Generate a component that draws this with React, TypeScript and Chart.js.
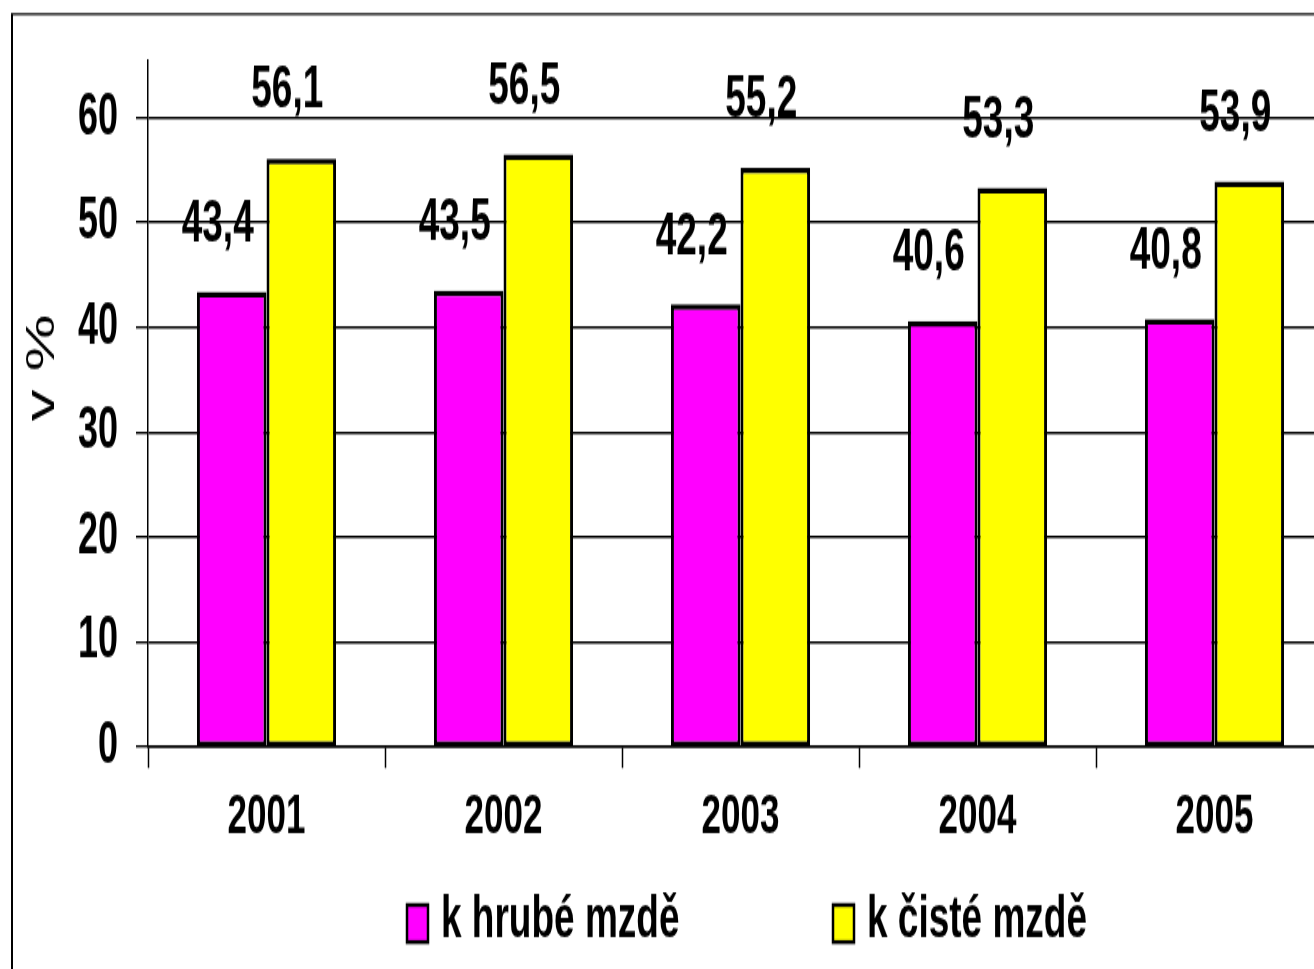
import React, { useEffect, useRef } from 'react';
import { Chart, registerables } from 'chart.js';

Chart.register(...registerables);

// ---- data ----
const categories = ['2001', '2002', '2003', '2004', '2005'];
const grossSeries = [43.4, 43.5, 42.2, 40.6, 40.8];
const netSeries = [56.1, 56.5, 55.2, 53.3, 53.9];
const seriesNames = ['k hrubé mzdě', 'k čisté mzdě'];
const seriesColors = ['#FF00FF', '#FFFF00'];
const yTickValues = [0, 10, 20, 30, 40, 50, 60];
const yTitle = 'v %';
const yMin = 0;
const yMax = 65.5;

// ---- geometry (canvas drawn unstretched, then scaled vertically like the reference) ----
const W = 1340;
const H = 606;
const S = 969 / H;
const FONT = '"Liberation Sans", Arial, sans-serif';

const fmt = (v: number) => v.toFixed(1).replace('.', ',');

const decorPlugin = {
  id: 'decor',
  beforeDraw(chart: any) {
    const ctx = chart.ctx;
    ctx.save();
    ctx.strokeStyle = '#000';
    ctx.lineWidth = 2;
    ctx.beginPath();
    ctx.moveTo(12, 14 / S);
    ctx.lineTo(12, H);
    ctx.stroke();
    ctx.lineWidth = 1.25;
    ctx.beginPath();
    ctx.moveTo(11, 14 / S);
    ctx.lineTo(W, 14 / S);
    ctx.stroke();
    ctx.restore();
  },
  afterDatasetsDraw(chart: any) {
    const ctx = chart.ctx;
    ctx.save();
    ctx.fillStyle = '#000';
    ctx.font = `bold 37px ${FONT}`;
    ctx.textAlign = 'center';
    ctx.textBaseline = 'middle';
    chart.data.datasets.forEach((ds: any, di: number) => {
      const meta = chart.getDatasetMeta(di);
      meta.data.forEach((el: any, i: number) => {
        ctx.fillText(fmt(ds.data[i]), el.x - 14, el.y - 67 / S);
      });
    });
    ctx.restore();
  },
  afterDraw(chart: any) {
    const ctx = chart.ctx;
    ctx.save();
    // legend
    const boxX = [407, 833];
    const textX = [441, 867];
    chart.data.datasets.forEach((ds: any, di: number) => {
      ctx.fillStyle = ds.backgroundColor;
      ctx.fillRect(boxX[di], 905 / S, 21, 37 / S);
      ctx.strokeStyle = '#000';
      ctx.lineWidth = 2.5;
      ctx.strokeRect(boxX[di], 905 / S, 21, 37 / S);
      ctx.fillStyle = '#000';
      ctx.font = `bold 37px ${FONT}`;
      ctx.textAlign = 'left';
      ctx.textBaseline = 'alphabetic';
      ctx.fillText(ds.label, textX[di], 937 / S);
    });
    // y title
    ctx.translate(43, 368 / S);
    ctx.rotate(-Math.PI / 2);
    ctx.font = `40px ${FONT}`;
    ctx.fillStyle = '#000';
    ctx.textAlign = 'center';
    ctx.textBaseline = 'middle';
    ctx.fillText(yTitle, 0, 0);
    ctx.restore();
  },
};

export default function App() {
  const ref = useRef<HTMLCanvasElement>(null);

  useEffect(() => {
    const canvas = ref.current;
    if (!canvas) return;
    const barBorder = { top: 3.5, bottom: 3, left: 3, right: 3 };
    const chart = new Chart(canvas, {
      type: 'bar',
      data: {
        labels: categories,
        datasets: [
          {
            label: seriesNames[0],
            data: grossSeries,
            backgroundColor: seriesColors[0],
            borderColor: '#000',
            borderWidth: barBorder,
            borderSkipped: false,
            inflateAmount: 0,
          },
          {
            label: seriesNames[1],
            data: netSeries,
            backgroundColor: seriesColors[1],
            borderColor: '#000',
            borderWidth: barBorder,
            borderSkipped: false,
            inflateAmount: 0,
          },
        ],
      },
      options: {
        responsive: false,
        animation: false,
        devicePixelRatio: 1,
        events: [],
        layout: { padding: { top: 60 / S, left: 0, right: W - 1333, bottom: 0 } },
        datasets: { bar: { categoryPercentage: 0.587, barPercentage: 1 } },
        plugins: {
          legend: { display: false },
          tooltip: { enabled: false },
          title: { display: false },
        },
        scales: {
          x: {
            grid: {
              drawOnChartArea: false,
              drawTicks: true,
              tickLength: 21 / S,
              tickColor: '#000',
              tickWidth: 1.5,
              offset: true,
            },
            border: { display: true, color: '#000', width: 1.4 },
            ticks: {
              color: '#000',
              font: { family: FONT, size: 35, weight: 'bold' },
              padding: 10,
            },
            afterFit(scale: any) {
              scale.height = H - 747 / S;
            },
          },
          y: {
            min: yMin,
            max: yMax,
            afterBuildTicks(scale: any) {
              scale.ticks = yTickValues.map((v) => ({ value: v }));
            },
            grid: {
              color: '#000',
              lineWidth: 1.4,
              drawTicks: true,
              tickLength: 12,
              tickColor: '#000',
            },
            border: { display: true, color: '#000', width: 1.5 },
            ticks: {
              color: '#000',
              font: { family: FONT, size: 36, weight: 'bold', lineHeight: 0.9 },
              padding: 18,
              callback: (v: any) => String(v),
            },
            afterFit(scale: any) {
              scale.width = 148;
            },
          },
        },
      },
      plugins: [decorPlugin],
    });
    return () => chart.destroy();
  }, []);

  return (
    <div
      style={{
        position: 'absolute',
        left: 0,
        top: 0,
        width: 1314,
        height: 969,
        overflow: 'hidden',
        background: '#fff',
      }}
    >
      <div style={{ width: W, height: H, transform: `scaleY(${S})`, transformOrigin: '0 0' }}>
        <canvas ref={ref} width={W} height={H} style={{ display: 'block', width: W, height: H }} />
      </div>
    </div>
  );
}
